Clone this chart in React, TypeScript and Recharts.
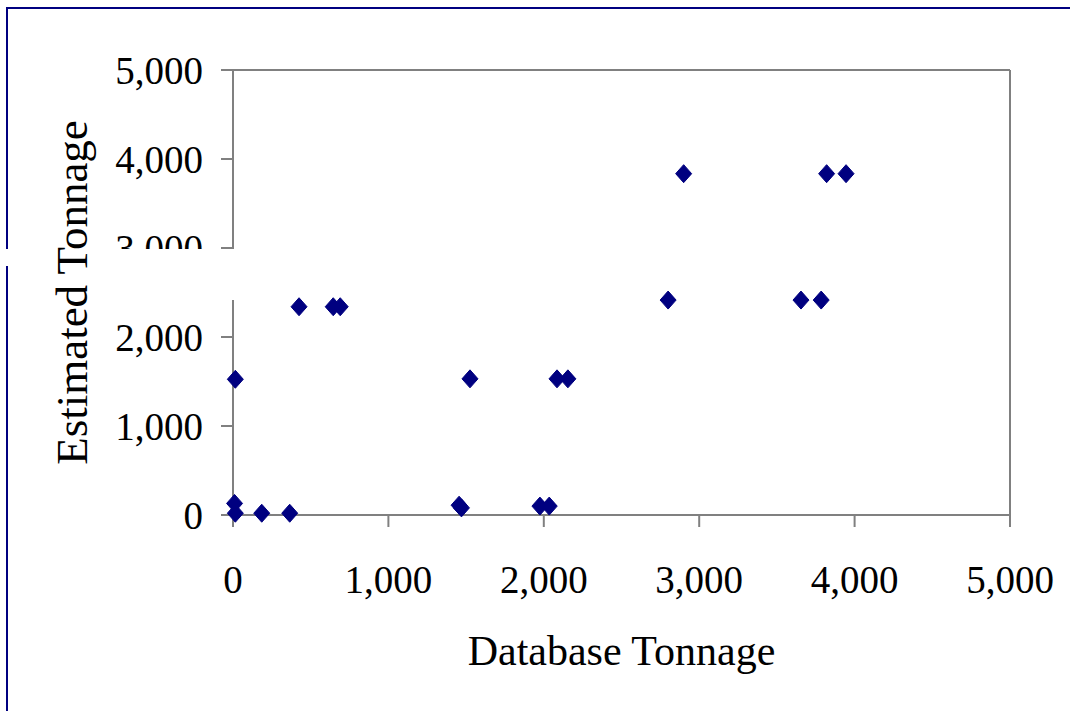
import { ScatterChart, Scatter, XAxis, YAxis, ReferenceLine, Label } from "recharts";

// database tonnage (x) and estimated tonnage (y) for each ship
const dbTonnage = [10, 15, 185, 365, 15, 425, 645, 690, 1455, 1470, 1525, 1975, 2035, 2085, 2155, 2800, 2900, 3655, 3785, 3820, 3945];
const estTonnage = [130, 20, 20, 20, 1525, 2340, 2340, 2340, 110, 80, 1530, 100, 100, 1530, 1530, 2415, 3835, 2415, 2415, 3835, 3835];
const axisTicks = [0, 1000, 2000, 3000, 4000, 5000];

const points = dbTonnage.map((x, i) => ({ x, y: estTonnage[i] }));

const FONT = "'Liberation Serif', 'Times New Roman', serif";
const NAVY = "#000080";
const GREY = "#808080";

const fmt = (v: number) => v.toLocaleString("en-US");

const Diamond = (props: any) => {
  const { cx, cy } = props;
  if (cx == null || cy == null) return null;
  return (
    <polygon
      points={`${cx},${cy - 9} ${cx + 8},${cy} ${cx},${cy + 9} ${cx - 8},${cy}`}
      fill={NAVY}
      stroke={NAVY}
      strokeWidth={1}
    />
  );
};

const YTitle = (props: any) => {
  const vb = props.viewBox || {};
  const cy = (vb.y ?? 70) + (vb.height ?? 445) / 2;
  const cx = 87;
  return (
    <text
      x={cx}
      y={cy}
      transform={`rotate(-90, ${cx}, ${cy})`}
      textAnchor="middle"
      fontFamily={FONT}
      fontSize={45}
      fill="#000"
    >
      Estimated Tonnage
    </text>
  );
};

export default function App() {
  const tickStyle = { fill: "#000", fontSize: 39, fontFamily: FONT };
  return (
    <div style={{ position: "absolute", left: 0, top: 0, width: 1070, height: 711, background: "#fff" }}>
      <div
        style={{
          position: "absolute",
          left: 6,
          top: 7,
          width: 1064,
          height: 704,
          boxSizing: "border-box",
          borderTop: `2px solid ${NAVY}`,
          borderLeft: `2px solid ${NAVY}`,
        }}
      />
      <div style={{ position: "absolute", left: 0, top: 0 }}>
        <ScatterChart width={1070} height={711} margin={{ top: 70, right: 60, left: 0, bottom: 0 }}>
          <XAxis
            dataKey="x"
            type="number"
            domain={[0, 5000]}
            ticks={axisTicks}
            tickFormatter={fmt}
            tickSize={12}
            tickMargin={38}
            height={196}
            stroke={GREY}
            strokeWidth={2}
            tick={tickStyle}
            interval={0}
          >
            <Label
              value="Database Tonnage"
              position="insideBottom"
              offset={46}
              style={{ fontSize: 42, fontFamily: FONT, fill: "#000" }}
            />
          </XAxis>
          <YAxis
            dataKey="y"
            type="number"
            domain={[0, 5000]}
            ticks={axisTicks}
            tickFormatter={fmt}
            tickSize={12}
            tickMargin={18}
            width={233}
            stroke={GREY}
            strokeWidth={2}
            tick={tickStyle}
            interval={0}
          >
            <Label content={<YTitle />} />
          </YAxis>
          <ReferenceLine y={5000} stroke={GREY} strokeWidth={2} />
          <ReferenceLine x={5000} stroke={GREY} strokeWidth={2} />
          <Scatter data={points} fill={NAVY} shape={Diamond} isAnimationActive={false} />
        </ScatterChart>
      </div>
      {/* white band that clips the 3,000 label in the original */}
      <div style={{ position: "absolute", left: 0, top: 249, width: 12, height: 17, background: "#fff" }} />
      <div style={{ position: "absolute", left: 100, top: 249, width: 136, height: 51, background: "#fff" }} />
    </div>
  );
}
